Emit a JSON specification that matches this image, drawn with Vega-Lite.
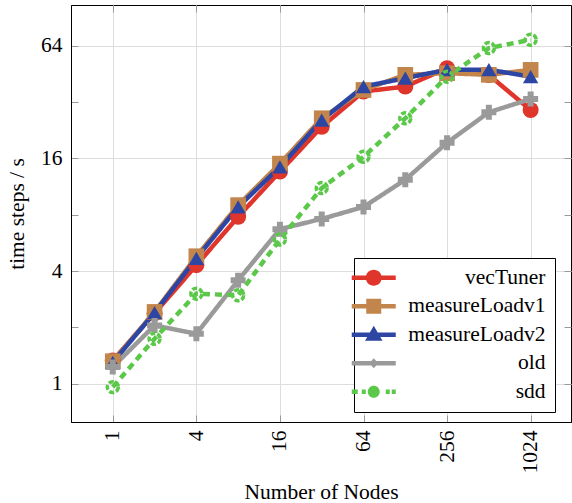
{
  "$schema": "https://vega.github.io/schema/vega-lite/v6.json",
  "width": 500,
  "height": 417,
  "autosize": {"type": "none"},
  "padding": {"left": 71, "top": 5, "right": 1, "bottom": 81},
  "background": "white",
  "config": {
    "font": "Liberation Serif",
    "view": {"stroke": "black", "strokeWidth": 1},
    "axis": {
      "labelFont": "Liberation Serif",
      "titleFont": "Liberation Serif",
      "labelFontSize": 21.5,
      "titleFontSize": 21.5,
      "labelColor": "black",
      "titleColor": "black",
      "titleFontWeight": "normal",
      "domainColor": "black",
      "gridColor": "#dddddd",
      "tickColor": "#999999",
      "tickSize": -7
    }
  },
  "resolve": {"axis": {"x": "independent", "y": "independent"}},
  "data": {
    "values": [
      {"series": "vecTuner", "nodes": 1, "tps": 1.33},
      {"series": "vecTuner", "nodes": 2, "tps": 2.38},
      {"series": "vecTuner", "nodes": 4, "tps": 4.3},
      {"series": "vecTuner", "nodes": 8, "tps": 7.8},
      {"series": "vecTuner", "nodes": 16, "tps": 13.6},
      {"series": "vecTuner", "nodes": 32, "tps": 23.6},
      {"series": "vecTuner", "nodes": 64, "tps": 36.4},
      {"series": "vecTuner", "nodes": 128, "tps": 38.7},
      {"series": "vecTuner", "nodes": 256, "tps": 48.5},
      {"series": "vecTuner", "nodes": 512, "tps": 44.6},
      {"series": "vecTuner", "nodes": 1024, "tps": 29},
      {"series": "measureLoadv1", "nodes": 1, "tps": 1.32},
      {"series": "measureLoadv1", "nodes": 2, "tps": 2.42},
      {"series": "measureLoadv1", "nodes": 4, "tps": 4.8},
      {"series": "measureLoadv1", "nodes": 8, "tps": 9.0},
      {"series": "measureLoadv1", "nodes": 16, "tps": 15.0},
      {"series": "measureLoadv1", "nodes": 32, "tps": 26.2},
      {"series": "measureLoadv1", "nodes": 64, "tps": 37.1},
      {"series": "measureLoadv1", "nodes": 128, "tps": 44.7},
      {"series": "measureLoadv1", "nodes": 256, "tps": 45.6},
      {"series": "measureLoadv1", "nodes": 512, "tps": 44.7},
      {"series": "measureLoadv1", "nodes": 1024, "tps": 47.5},
      {"series": "measureLoadv2", "nodes": 1, "tps": 1.3},
      {"series": "measureLoadv2", "nodes": 2, "tps": 2.4},
      {"series": "measureLoadv2", "nodes": 4, "tps": 4.68},
      {"series": "measureLoadv2", "nodes": 8, "tps": 8.8},
      {"series": "measureLoadv2", "nodes": 16, "tps": 14.4},
      {"series": "measureLoadv2", "nodes": 32, "tps": 25.6},
      {"series": "measureLoadv2", "nodes": 64, "tps": 38.7},
      {"series": "measureLoadv2", "nodes": 128, "tps": 42.9},
      {"series": "measureLoadv2", "nodes": 256, "tps": 47.6},
      {"series": "measureLoadv2", "nodes": 512, "tps": 47.6},
      {"series": "measureLoadv2", "nodes": 1024, "tps": 43.7},
      {"series": "old", "nodes": 1, "tps": 1.23},
      {"series": "old", "nodes": 2, "tps": 2.05},
      {"series": "old", "nodes": 4, "tps": 1.85},
      {"series": "old", "nodes": 8, "tps": 3.57},
      {"series": "old", "nodes": 16, "tps": 6.7},
      {"series": "old", "nodes": 32, "tps": 7.6},
      {"series": "old", "nodes": 64, "tps": 8.8},
      {"series": "old", "nodes": 128, "tps": 12.3},
      {"series": "old", "nodes": 256, "tps": 19.4},
      {"series": "old", "nodes": 512, "tps": 28.2},
      {"series": "old", "nodes": 1024, "tps": 33.2},
      {"series": "sdd", "nodes": 1, "tps": 0.96},
      {"series": "sdd", "nodes": 2, "tps": 1.74},
      {"series": "sdd", "nodes": 4, "tps": 3.03},
      {"series": "sdd", "nodes": 8, "tps": 2.97},
      {"series": "sdd", "nodes": 16, "tps": 5.9},
      {"series": "sdd", "nodes": 32, "tps": 11.1},
      {"series": "sdd", "nodes": 64, "tps": 16.3},
      {"series": "sdd", "nodes": 128, "tps": 26.2},
      {"series": "sdd", "nodes": 256, "tps": 43.7},
      {"series": "sdd", "nodes": 512, "tps": 62.1},
      {"series": "sdd", "nodes": 1024, "tps": 68.8}
    ]
  },
  "encoding": {
    "x": {
      "field": "nodes",
      "type": "quantitative",
      "scale": {"type": "log", "base": 2, "domain": [0.5, 2000], "nice": false, "zero": false},
      "axis": {
        "title": "Number of Nodes",
        "values": [1, 4, 16, 64, 256, 1024],
        "format": "d",
        "labelAngle": -90,
        "labelPadding": 15,
        "titlePadding": 8
      }
    },
    "y": {
      "field": "tps",
      "type": "quantitative",
      "scale": {"type": "log", "base": 2, "domain": [0.625, 105.5], "nice": false, "zero": false},
      "axis": {
        "title": "time steps / s",
        "values": [1, 2, 4, 8, 16, 32, 64],
        "labelExpr": "(round(log(datum.value)/log(2)) % 2 == 0) ? format(datum.value, 'd') : ''",
        "gridOpacity": {"condition": {"test": "round(log(datum.value)/log(2)) % 2 == 1", "value": 0}, "value": 1},
        "labelPadding": 16,
        "titlePadding": 12
      }
    },
    "color": {
      "field": "series",
      "type": "nominal",
      "scale": {
        "domain": ["vecTuner", "measureLoadv1", "measureLoadv2", "old", "sdd"],
        "range": ["#e0352b", "#c2854b", "#2d46a3", "#9a9a9a", "#5cc84a"]
      },
      "legend": {
        "title": null,
        "orient": "none",
        "legendX": 283,
        "legendY": 253,
        "labelFont": "Liberation Serif",
        "labelFontSize": 21.5,
        "labelColor": "black",
        "labelAlign": "right",
        "labelOffset": 161,
        "labelLimit": 300,
        "symbolSize": 100,
        "rowPadding": 5.5,
        "padding": 9,
        "strokeColor": "black",
        "fillColor": "white",
        "cornerRadius": 0,
        "encode": {
          "symbols": {
            "update": {
              "shape": {"signal": "datum.value === 'vecTuner' ? 'M-4.4,-0.45H4.4V0.45H-4.4Z M1.6,0A1.6,1.6 0 1 1 -1.6,0A1.6,1.6 0 1 1 1.6,0Z' : datum.value === 'measureLoadv1' ? 'M-4.4,-0.45H4.4V0.45H-4.4Z M-1.5,-1.5H1.5V1.5H-1.5Z' : datum.value === 'measureLoadv2' ? 'M-4.4,-0.45H4.4V0.45H-4.4Z M0,-1.8L1.75,1.2H-1.75Z' : datum.value === 'old' ? 'M-4.4,-0.45H4.4V0.45H-4.4Z M0,-1L0.9,0L0,1L-0.9,0Z' : 'M-4.4,-0.45H-3.2V0.45H-4.4Z M-2.4,-0.45H-1.6V0.45H-2.4Z M1.2,0A1.2,1.2 0 1 1 -1.2,0A1.2,1.2 0 1 1 1.2,0Z M2.4,-0.45H3.2V0.45H2.4Z M3.6,-0.45H4.4V0.45H3.6Z'"},
              "fill": {"signal": "scale('color', datum.value)"},
              "fillOpacity": {"value": 1},
              "opacity": {"value": 1},
              "stroke": {"value": "transparent"},
              "strokeWidth": {"value": 0},
              "strokeDash": {"value": [1, 0]},
              "size": {"value": 100}
            }
          }
        }
      }
    }
  },
  "layer": [
    {
      "mark": {"type": "line", "strokeWidth": 4.5},
      "encoding": {
        "strokeDash": {
          "field": "series",
          "type": "nominal",
          "scale": {
            "domain": ["vecTuner", "measureLoadv1", "measureLoadv2", "old", "sdd"],
            "range": [[1, 0], [1, 0], [1, 0], [1, 0], [7, 5]]
          },
          "legend": null
        }
      }
    },
    {
      "transform": [{"filter": "datum.series != 'sdd'"}],
      "mark": {"type": "point", "filled": true, "opacity": 1},
      "encoding": {
        "x": {"field": "nodes", "type": "quantitative", "scale": {"type": "log", "base": 2, "domain": [0.5, 2000], "nice": false, "zero": false}, "axis": null},
        "y": {"field": "tps", "type": "quantitative", "scale": {"type": "log", "base": 2, "domain": [0.625, 105.5], "nice": false, "zero": false}, "axis": null},
        "shape": {
          "field": "series",
          "type": "nominal",
          "scale": {
            "domain": ["vecTuner", "measureLoadv1", "measureLoadv2", "old"],
            "range": ["circle", "square", "triangle-up", "cross"]
          },
          "legend": null
        },
        "size": {
          "field": "series",
          "type": "nominal",
          "scale": {
            "domain": ["vecTuner", "measureLoadv1", "measureLoadv2", "old"],
            "range": [256, 225, 280, 50]
          },
          "legend": null
        }
      }
    },
    {
      "transform": [{"filter": "datum.series == 'sdd'"}],
      "mark": {"type": "point", "filled": false, "opacity": 1, "strokeWidth": 3.5, "strokeDash": [5, 2], "size": 120},
      "encoding": {
        "x": {"field": "nodes", "type": "quantitative", "scale": {"type": "log", "base": 2, "domain": [0.5, 2000], "nice": false, "zero": false}, "axis": null},
        "y": {"field": "tps", "type": "quantitative", "scale": {"type": "log", "base": 2, "domain": [0.625, 105.5], "nice": false, "zero": false}, "axis": null}
      }
    },
    {
      "transform": [{"filter": "datum.series == 'old'"}],
      "mark": {"type": "point", "opacity": 0},
      "encoding": {
        "x": {"field": "nodes", "type": "quantitative", "scale": {"type": "log", "base": 2, "domain": [0.5, 2000], "nice": false, "zero": false},
          "axis": {"orient": "top", "values": [1, 4, 16, 64, 256, 1024], "labels": false, "title": null, "grid": false, "domain": false, "tickSize": -7}},
        "y": {"field": "tps", "type": "quantitative", "scale": {"type": "log", "base": 2, "domain": [0.625, 105.5], "nice": false, "zero": false},
          "axis": {"orient": "right", "values": [1, 2, 4, 8, 16, 32, 64], "labels": false, "title": null, "grid": false, "domain": false, "tickSize": -7}},
        "color": {"value": "transparent"}
      }
    }
  ]
}
